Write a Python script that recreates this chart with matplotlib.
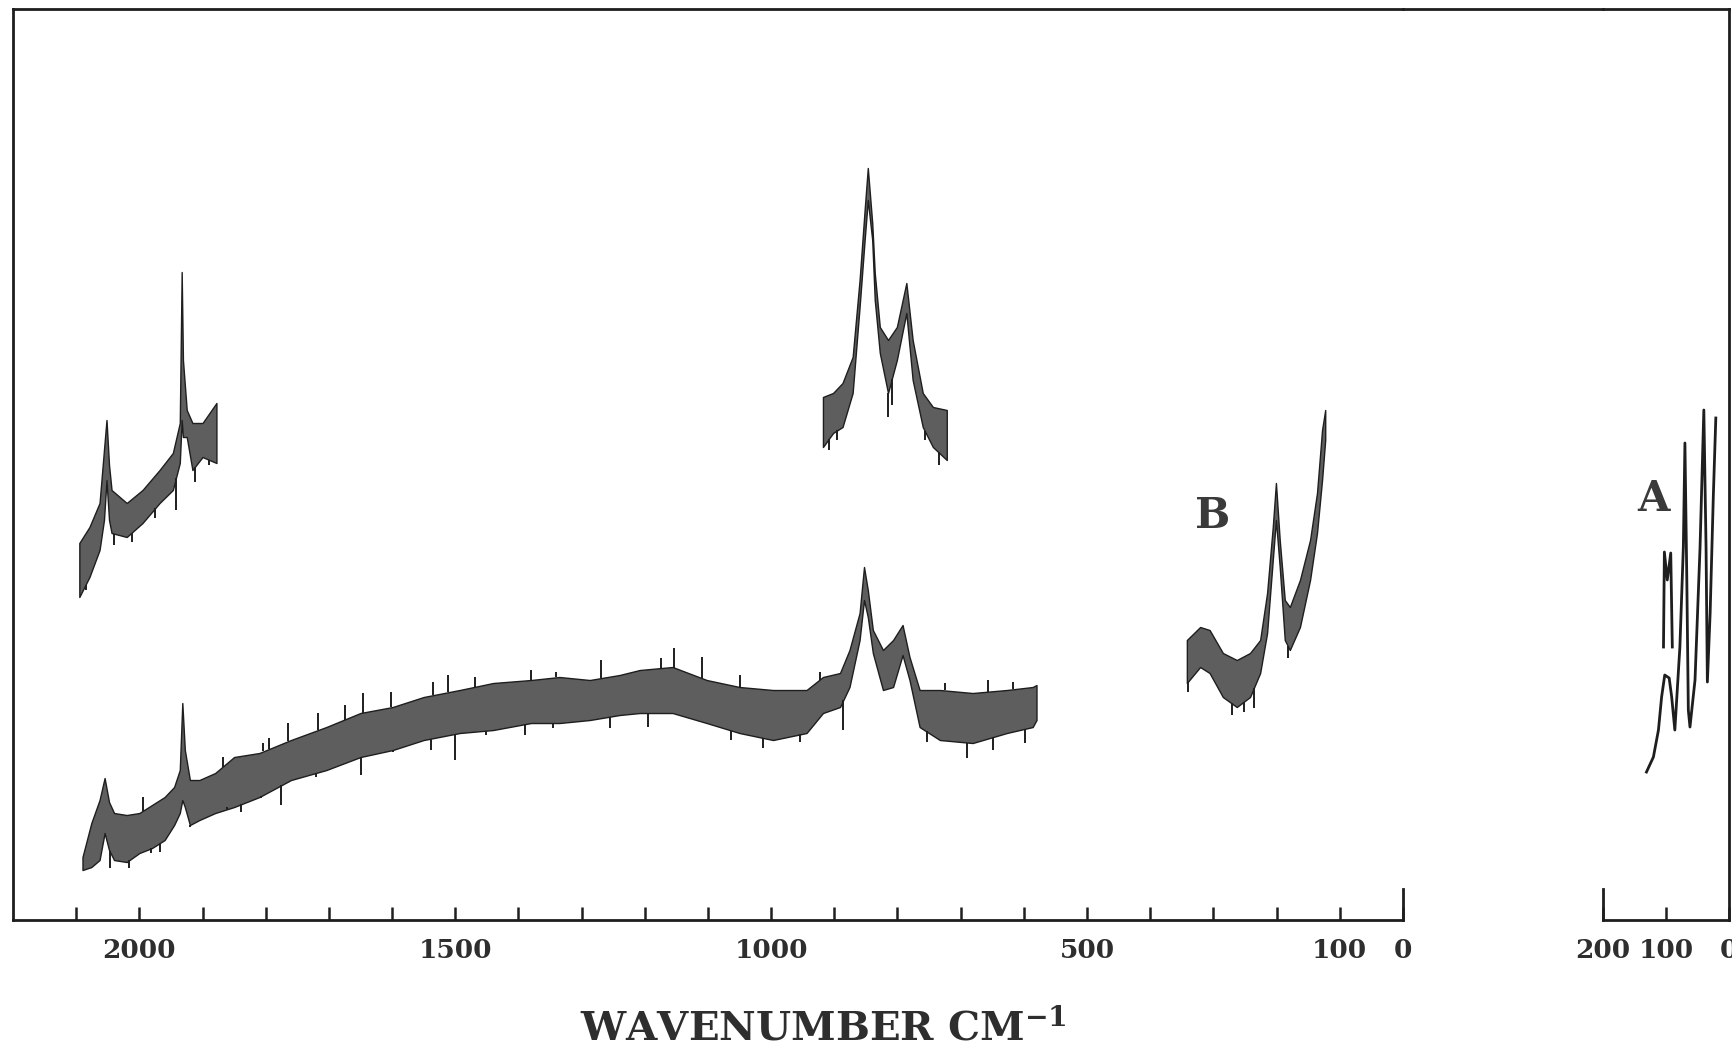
import matplotlib
matplotlib.use("Agg")
import matplotlib.pyplot as plt
import numpy as np
from matplotlib.lines import Line2D

plt.rcParams["font.family"] = ["DejaVu Serif"]
plt.rcParams["mathtext.fontset"] = "dejavuserif"

# ---- survey spectrum (lower trace): wavenumber, upper and lower edge of the noisy trace
low_wn = [2090, 2076, 2063, 2055, 2048, 2040, 2020, 2000, 1980, 1960, 1945, 1936, 1932,
          1928, 1920, 1905, 1880, 1850, 1810, 1760, 1704, 1650, 1599, 1550, 1493, 1440,
          1380, 1335, 1287, 1240, 1208, 1156, 1102, 1050, 997, 944, 918, 891, 876, 860,
          853, 847, 839, 823, 807, 792, 781, 765, 733, 681, 627, 586, 580]
low_top = [63, 97, 120, 142, 118, 107, 105, 107, 115, 123, 133, 150, 217,
           170, 140, 140, 147, 163, 167, 180, 193, 207, 213, 223, 230, 237,
           240, 243, 240, 245, 250, 253, 240, 233, 230, 230, 243, 247, 270, 307,
           353, 330, 290, 270, 280, 295, 263, 230, 230, 227, 230, 233, 235]
low_bot = [50, 53, 60, 87, 70, 60, 58, 67, 72, 80, 95, 107, 120,
           113, 95, 100, 107, 113, 123, 140, 150, 163, 170, 180, 187, 190,
           197, 197, 200, 205, 207, 207, 197, 187, 180, 187, 207, 213, 233, 280,
           320, 303, 267, 230, 233, 265, 240, 193, 180, 177, 187, 193, 200]
# isolated noise spikes on the survey trace (tip positions)
low_up_wn = [1994, 1868, 1804, 1794, 1765, 1717, 1675, 1646, 1601, 1535, 1512, 1469,
             1380, 1340, 1269, 1174, 1153, 1110, 1050, 923, 725, 657, 617]
low_up = [123, 163, 177, 182, 197, 207, 215, 227, 228, 238, 245, 243,
          250, 248, 260, 262, 272, 263, 245, 248, 237, 240, 238]
low_dn_wn = [2047, 2016, 1981, 1968, 1920, 1862, 1839, 1807, 1775, 1720, 1649, 1599,
             1538, 1501, 1451, 1390, 1345, 1255, 1195, 1063, 1013, 955, 886, 754, 690,
             649, 598]
low_dn = [52, 52, 67, 68, 93, 113, 108, 122, 115, 143, 145, 168,
          170, 160, 185, 185, 192, 192, 193, 180, 172, 178, 190, 178, 162,
          170, 177]

# ---- expanded scan, 2100-1875 cm-1
ul_wn = [2095, 2079, 2063, 2056, 2052, 2048, 2044, 2020, 1995, 1968, 1947, 1936,
         1933, 1931, 1925, 1916, 1900, 1878]
ul_top = [377, 393, 417, 470, 500, 455, 430, 417, 430, 450, 467, 497,
          648, 560, 510, 497, 497, 517]
ul_bot = [323, 343, 370, 400, 440, 400, 387, 383, 397, 417, 430, 457,
          500, 483, 483, 450, 463, 457]
ul_dn_wn = [2085, 2040, 2012, 1975, 1942, 1912, 1890]
ul_dn = [330, 375, 378, 402, 410, 438, 455]

# ---- expanded scan, 920-720 cm-1
um_wn = [918, 902, 887, 871, 860, 852, 847, 840, 836, 828, 815, 801, 786, 776, 760, 744, 722]
um_top = [523, 527, 537, 563, 640, 710, 752, 697, 647, 593, 580, 593, 637, 580, 527, 513, 510]
um_bot = [473, 487, 493, 527, 613, 680, 720, 680, 620, 567, 527, 560, 607, 540, 493, 473, 460]
um_dn_wn = [909, 895, 815, 809, 757, 735]
um_dn = [470, 480, 503, 515, 480, 455]

# ---- trace B, 340-120 cm-1
b_wn = [342, 321, 306, 285, 263, 242, 226, 215, 206, 201, 195, 187, 179, 163, 147, 136, 128, 123]
b_top = [280, 293, 290, 267, 260, 267, 280, 327, 393, 437, 380, 320, 313, 340, 380, 427, 490, 510]
b_bot = [237, 253, 247, 223, 213, 223, 247, 287, 360, 400, 353, 280, 270, 293, 340, 387, 440, 480]
b_dn_wn = [340, 271, 252, 236, 182]
b_dn = [228, 205, 208, 212, 262]

# ---- trace A (low-frequency region, separate 200-0 cm-1 scale)
a_wn = [131, 120, 112, 107, 102, 95, 91, 86, 78, 72.5, 70, 67, 64.6, 62, 54, 46, 40,
        36.5, 34.4, 30, 25, 21]
a_int = [148, 163, 190, 223, 245, 242, 223, 190, 273, 373, 477, 340, 210, 193, 240, 373, 510,
         373, 238, 307, 423, 502]
# reduced-gain overlay of the 100 cm-1 doublet
a2_wn = [104, 102.6, 98, 92.5, 90]
a2_int = [273, 368, 340, 367, 273]

# ---- axis ticks
main_ticks = list(range(2100, -1, -100))
main_labels = {2000: "2000", 1500: "1500", 1000: "1000", 500: "500", 100: "100", 0: "0"}
low_ticks = [200, 100, 0]
low_labels = ["200", "100", "0"]

YMAX = 911
INK = "#1e1e1e"
BAND = "#5e5e5e"
TXT = "#2e2e2e"

fig = plt.figure(figsize=(17.32, 10.54), dpi=100)
ax1 = fig.add_axes([0.0075, 0.1271, 0.8025, 0.8644])
ax2 = fig.add_axes([0.9255, 0.1271, 0.0728, 0.8644])

for ax in (ax1, ax2):
    ax.set_ylim(0, YMAX)
    ax.set_yticks([])
    for s in ax.spines.values():
        s.set_linewidth(2.0)
        s.set_color(INK)
    ax.patch.set_alpha(0)

ax1.set_xlim(2200, 0)
ax2.set_xlim(200, 0)
ax1.spines["right"].set_bounds(0, 31)
ax2.spines["left"].set_bounds(0, 31)

tick_font = dict(fontsize=19, fontweight="bold", color=TXT)
ax1.set_xticks(main_ticks)
ax1.set_xticklabels([main_labels.get(t, "") for t in main_ticks], **tick_font)
ax2.set_xticks(low_ticks)
ax2.set_xticklabels(low_labels, **tick_font)
for ax in (ax1, ax2):
    ax.tick_params(axis="x", direction="in", length=9.5, width=1.8, pad=13, color=INK)

# top frame line bridging the gap between the two scales
fig.add_artist(Line2D([0.8100, 0.9255], [0.9915, 0.9915], transform=fig.transFigure,
                      color=INK, lw=2.0))


def noisy_band(ax, wn, top, bot, up_wn=(), up=(), dn_wn=(), dn=()):
    """Trace drawn as a filled band between its edges, with the noise spikes."""
    ax.fill_between(wn, bot, top, facecolor=BAND, edgecolor=INK, linewidth=1.0)
    x = np.asarray(wn)[::-1]
    if len(up_wn):
        edge = np.interp(up_wn, x, np.asarray(top)[::-1])
        ax.vlines(up_wn, edge, up, color=INK, lw=1.4)
    if len(dn_wn):
        edge = np.interp(dn_wn, x, np.asarray(bot)[::-1])
        ax.vlines(dn_wn, dn, edge, color=INK, lw=1.4)


noisy_band(ax1, low_wn, low_top, low_bot, low_up_wn, low_up, low_dn_wn, low_dn)
noisy_band(ax1, ul_wn, ul_top, ul_bot, dn_wn=ul_dn_wn, dn=ul_dn)
noisy_band(ax1, um_wn, um_top, um_bot, dn_wn=um_dn_wn, dn=um_dn)
noisy_band(ax1, b_wn, b_top, b_bot, dn_wn=b_dn_wn, dn=b_dn)

ax2.plot(a_wn, a_int, color=INK, lw=2.0)
ax2.plot(a2_wn, a2_int, color=INK, lw=2.0)

label_font = dict(fontsize=30, fontweight="bold", color="#3a3a3a", ha="center", va="center")
ax1.text(301, 404, "B", **label_font)
ax2.text(119.5, 421, "A", clip_on=False, **label_font)

fig.text(0.4752, 0.0245, r"WAVENUMBER CM$^{\mathbf{-1}}$", fontsize=29, fontweight="bold",
         color=TXT, ha="center", va="center")

fig.savefig("out.png", dpi=100)
